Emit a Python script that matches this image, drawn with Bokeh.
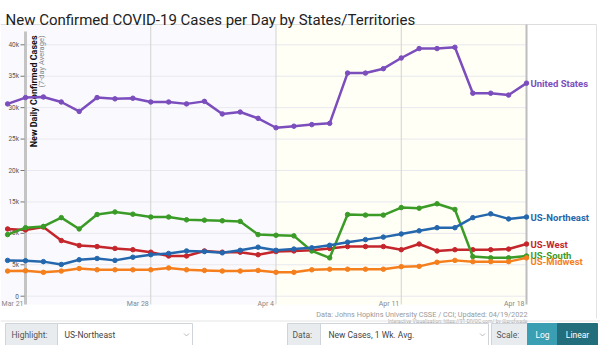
import numpy as np
from bokeh.plotting import figure
from bokeh.models import Range1d
from bokeh.core.properties import value
from bokeh.embed import file_html
from bokeh.resources import INLINE

# ---------------- data ----------------
dates = ["Mar 20", "Mar 21", "Mar 22", "Mar 23", "Mar 24", "Mar 25", "Mar 26", "Mar 27",
         "Mar 28", "Mar 29", "Mar 30", "Mar 31", "Apr 1", "Apr 2", "Apr 3", "Apr 4",
         "Apr 5", "Apr 6", "Apr 7", "Apr 8", "Apr 9", "Apr 10", "Apr 11", "Apr 12",
         "Apr 13", "Apr 14", "Apr 15", "Apr 16", "Apr 17", "Apr 18"]
day = list(range(-1, 29))  # days since Mar 21

united_states = [30600, 31600, 31700, 30900, 29400, 31600, 31400, 31500, 30900, 30900,
                 30600, 31000, 29000, 29300, 28300, 26800, 27050, 27300, 27500, 35500,
                 35500, 36200, 37900, 39400, 39400, 39600, 32300, 32300, 32000, 33900]
us_northeast = [5700, 5650, 5500, 5050, 5800, 6000, 5700, 6200, 6600, 6800,
                7200, 7100, 6900, 7300, 7800, 7300, 7500, 7700, 8100, 8600,
                9000, 9400, 9900, 10400, 10900, 10900, 12500, 13100, 12300, 12600]
us_west = [10700, 10550, 11000, 8850, 8070, 7900, 7600, 7400, 7000, 6400,
           6400, 7200, 7000, 7000, 6600, 7100, 7200, 7300, 7600, 7900,
           7900, 7900, 7400, 8300, 7200, 7400, 7400, 7400, 7500, 8300]
us_south = [9800, 10900, 11100, 12500, 10700, 13000, 13400, 13050, 12600, 12600,
            12150, 12100, 12000, 11900, 9800, 9700, 9600, 7200, 6100, 13000,
            12900, 12900, 14100, 14000, 14700, 13800, 6300, 6100, 6100, 6400]
us_midwest = [4000, 4050, 3800, 4000, 4400, 4200, 4200, 4200, 4200, 4500,
              4200, 4100, 4000, 4000, 4100, 3800, 3800, 4200, 4300, 4300,
              4300, 4300, 4700, 4750, 5400, 5700, 5500, 5500, 5500, 6100]

series_names = ["United States", "US-Northeast", "US-West", "US-South", "US-Midwest"]
series_values = [united_states, us_northeast, us_west, us_south, us_midwest]
series_colors = ["#7b4dbd", "#2567ad", "#c4262b", "#3a9b26", "#f57f1d"]
label_nudge = [0, 0, 0, 0, 4]

y_ticks = [0, 5000, 10000, 15000, 20000, 25000, 30000, 35000, 40000]
y_tick_labels = ["0", "5k", "10k", "15k", "20k", "25k", "30k", "35k", "40k"]
x_ticks = [0, 7, 14, 21, 28]
x_tick_labels = ["Mar 21", "Mar 28", "Apr 4", "Apr 11", "Apr 18"]

FONT = value("Roboto")

# ---------------- figure ----------------
W, H = 600, 345
px_per_day = 501 / 28.0
px_per_case = 251.4 / 40000.0
x0_px, y0_px = 25.0, 295.7
p = figure(width=W, height=H, output_backend="svg", toolbar_location=None,
           x_range=Range1d(-x0_px / px_per_day, (W - x0_px) / px_per_day),
           y_range=Range1d(-(H - y0_px) / px_per_case, y0_px / px_per_case),
           x_axis_type=None, y_axis_type=None, min_border=0,
           min_border_left=0, min_border_right=0, min_border_top=0, min_border_bottom=0,
           background_fill_color="white", border_fill_color="white",
           outline_line_color=None)
p.grid.visible = False
p.extra_x_ranges = {"px": Range1d(0, W)}
p.extra_y_ranges = {"px": Range1d(H, 0)}

# plot background zones
p.quad(left=[p.x_range.start], right=[14], top=[24], bottom=[304],
       fill_color="#fafafe", line_color=None, y_range_name="px")
p.quad(left=[14], right=[28], top=[24], bottom=[304],
       fill_color="#fffff6", line_color=None, y_range_name="px")
# frame lines
p.segment(x0=[0], x1=[596], y0=[24], y1=[24], line_color="#dddddd", line_width=1,
          x_range_name="px", y_range_name="px")
p.segment(x0=[596], x1=[596], y0=[24], y1=[318], line_color="#e2e2e2", line_width=1,
          x_range_name="px", y_range_name="px")

# horizontal gridlines
p.segment(x0=[0] * len(y_ticks), x1=[28] * len(y_ticks), y0=y_ticks, y1=y_ticks,
          line_color="#e8e8ef", line_width=1)
# vertical gridlines
p.segment(x0=x_ticks[1:4], x1=x_ticks[1:4], y0=[24] * 3, y1=[304] * 3,
          line_color="#d2d2d2", line_width=1, y_range_name="px")
p.segment(x0=[28], x1=[28], y0=[24], y1=[304], line_color="#bdbdbd", line_width=2,
          y_range_name="px")
p.segment(x0=[0], x1=[0], y0=[31], y1=[304], line_color="#c4c4c4", line_width=3,
          y_range_name="px")

# y ticks
p.segment(x0=[20] * len(y_ticks), x1=[24] * len(y_ticks), y0=y_ticks, y1=y_ticks,
          line_color="#777777", line_width=1, x_range_name="px")
p.text(x=[18.5] * len(y_ticks), y=y_ticks, text=y_tick_labels, x_range_name="px",
       text_align="right", text_baseline="middle", text_font=FONT,
       text_font_size="6.5px", text_color="#555555")
# x tick labels
p.text(x=x_ticks, y=[303] * len(x_ticks), text=x_tick_labels, y_range_name="px",
       x_offset=-2, text_align="right", text_baseline="alphabetic", text_font=FONT,
       text_font_size="7px", text_color="#888888")

# y axis title
p.text(x=[33.5], y=[35], text=["New Daily Confirmed Cases"], angle=np.pi / 2,
       text_align="right", text_baseline="alphabetic", text_font=FONT,
       text_font_size="9px", text_font_style="bold", text_color="#111111",
       x_range_name="px", y_range_name="px")
p.text(x=[40.5], y=[35], text=["(7-day Average)"], angle=np.pi / 2,
       text_align="right", text_baseline="alphabetic", text_font=FONT,
       text_font_size="7.5px", text_color="#888888",
       x_range_name="px", y_range_name="px")

# series (draw US-Northeast last as highlighted)
order = [0, 2, 3, 4, 1]
for i in order:
    vals = series_values[i]
    c = series_colors[i]
    p.line(day, vals, line_color=c, line_width=2.5)
    p.scatter(day, vals, size=4.5, fill_color=c, line_color=c)
for i in range(5):
    p.text(x=[28], y=[series_values[i][-1]], text=[series_names[i]], x_offset=4,
           y_offset=label_nudge[i], text_align="left", text_baseline="middle",
           text_font=FONT, text_font_size="9.5px", text_font_style="bold",
           text_color=series_colors[i])

# title
p.text(x=[5], y=[19.5], text=["New Confirmed COVID-19 Cases per Day by States/Territories"],
       text_align="left", text_baseline="alphabetic", text_font=FONT,
       text_font_size="15px", text_color="#222222",
       x_range_name="px", y_range_name="px")

# source notes
p.text(x=[527], y=[314], text=["Data: Johns Hopkins University CSSE / CCI; Updated: 04/19/2022"],
       text_align="right", text_baseline="alphabetic", text_font=FONT,
       text_font_size="7.3px", text_color="#9a9a9a", x_range_name="px", y_range_name="px")
p.text(x=[527], y=[320], text=["Interactive Visualization: https://91-DIVOC.com/ by @profwade"],
       text_align="right", text_baseline="alphabetic", text_font=FONT,
       text_font_size="5px", text_color="#9a9a9a", x_range_name="px", y_range_name="px")

# controls bar
p.segment(x0=[0], x1=[600], y0=[320.5], y1=[320.5], line_color="#e4e4e4",
          x_range_name="px", y_range_name="px")
box_l = [5, 287, 491]
box_r = [57, 320, 527]
p.quad(left=box_l, right=box_r, top=[323] * 3, bottom=[345] * 3,
       fill_color="#e9ecef", line_color="#ced4da", x_range_name="px", y_range_name="px")
p.quad(left=[57, 320], right=[192, 488], top=[323] * 2, bottom=[345] * 2,
       fill_color="white", line_color="#ced4da", x_range_name="px", y_range_name="px")
p.quad(left=[527, 557], right=[557, 597], top=[323] * 2, bottom=[345] * 2,
       fill_color=["#3a9fb3", "#236e7d"], line_color=["#3a9fb3", "#236e7d"],
       x_range_name="px", y_range_name="px")
p.text(x=[11, 292, 496], y=[334] * 3, text=["Highlight:", "Data:", "Scale:"],
       text_align="left", text_baseline="middle", text_font=FONT, text_font_size="8.5px",
       text_color="#555555", x_range_name="px", y_range_name="px")
p.text(x=[64, 328], y=[334] * 2, text=["US-Northeast", "New Cases, 1 Wk. Avg."],
       text_align="left", text_baseline="middle", text_font=FONT, text_font_size="8.5px",
       text_color="#444444", x_range_name="px", y_range_name="px")
p.text(x=[542, 577], y=[334] * 2, text=["Log", "Linear"],
       text_align="center", text_baseline="middle", text_font=FONT, text_font_size="8.5px",
       text_color="white", x_range_name="px", y_range_name="px")
# select chevrons
for cx in [186, 482]:
    p.line(x=[cx - 2.5, cx, cx + 2.5], y=[333, 335.5, 333], line_color="#aaaaaa",
           line_width=0.8, x_range_name="px", y_range_name="px")

open("out.html", "w").write(file_html(p, INLINE))
